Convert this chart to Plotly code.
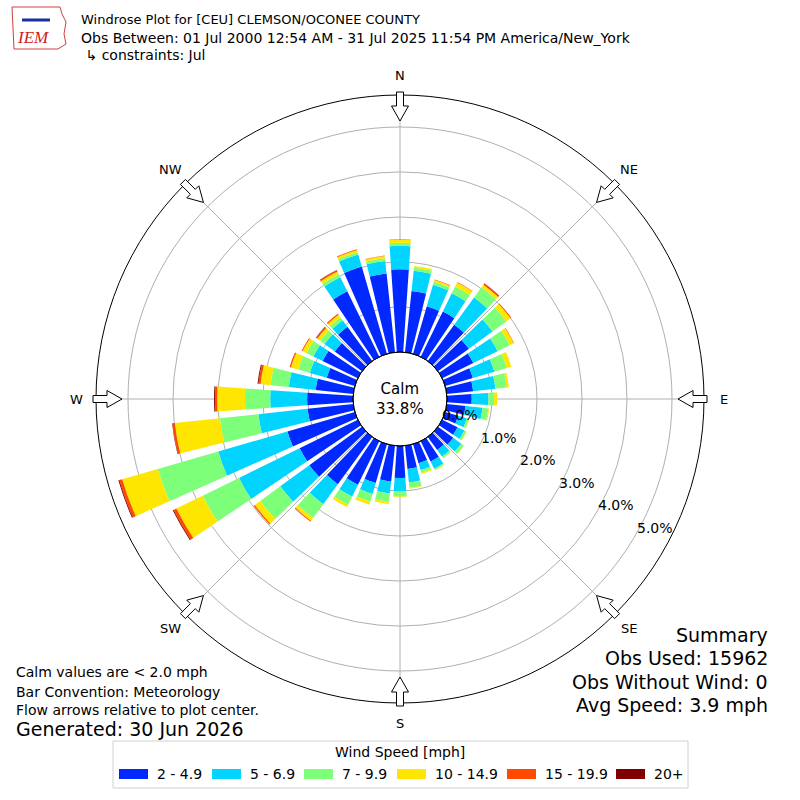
import math
import plotly.graph_objects as go

# wind direction bins (compass degrees, bar centres)
directions = [10, 20, 30, 40, 50, 60, 70, 80, 90, 100, 110, 120, 130, 140, 150, 160, 170, 180,
              190, 200, 210, 220, 230, 240, 250, 260, 270, 280, 290, 300, 310, 320, 330, 340, 350, 360]

# percent of obs per direction for each speed bin
spd_2_5 = [1.37, 1.10, 1.12, 1.00, 0.85, 0.77, 0.64, 0.59, 0.55, 0.42, 0.30, 0.38, 0.42, 0.36, 0.50, 0.44, 0.52, 0.71,
           0.80, 0.90, 1.08, 1.30, 1.45, 1.44, 1.56, 1.02, 1.02, 0.84, 0.65, 0.87, 0.75, 0.94, 1.62, 2.02, 1.76, 1.84]
spd_5_7 = [0.45, 0.50, 0.45, 0.75, 0.65, 0.60, 0.50, 0.50, 0.37, 0.38, 0.20, 0.17, 0.22, 0.18, 0.18, 0.16, 0.30, 0.30,
           0.27, 0.25, 0.29, 0.55, 0.80, 1.50, 1.60, 1.10, 0.82, 0.60, 0.39, 0.23, 0.28, 0.18, 0.35, 0.28, 0.28, 0.52]
spd_7_10 = [0.07, 0.07, 0.17, 0.28, 0.38, 0.30, 0.29, 0.25, 0.13, 0.13, 0.05, 0.05, 0.07, 0.04, 0.03, 0.06, 0.12, 0.11,
            0.18, 0.18, 0.20, 0.38, 0.55, 0.90, 1.40, 0.86, 0.56, 0.41, 0.27, 0.17, 0.12, 0.08, 0.07, 0.05, 0.06, 0.07]
spd_10_15 = [0.04, 0.04, 0.10, 0.07, 0.12, 0.10, 0.10, 0.05, 0.07, 0.02, 0.01, 0.01, 0.01, 0.01, 0.01, 0.03, 0.02, 0.02,
             0.05, 0.07, 0.06, 0.08, 0.15, 0.65, 0.82, 1.01, 0.62, 0.22, 0.17, 0.10, 0.08, 0.07, 0.07, 0.05, 0.05, 0.07]
spd_15_20 = [0.00, 0.01, 0.01, 0.03, 0.02, 0.01, 0.00, 0.00, 0.00, 0.00, 0.00, 0.00, 0.00, 0.00, 0.00, 0.00, 0.00, 0.00,
             0.00, 0.00, 0.00, 0.02, 0.03, 0.07, 0.07, 0.05, 0.05, 0.05, 0.03, 0.02, 0.03, 0.03, 0.03, 0.02, 0.01, 0.01]
spd_20p = [0.00, 0.00, 0.00, 0.01, 0.00, 0.00, 0.00, 0.00, 0.00, 0.00, 0.00, 0.00, 0.00, 0.00, 0.00, 0.00, 0.00, 0.00,
           0.00, 0.00, 0.00, 0.00, 0.00, 0.02, 0.02, 0.01, 0.02, 0.02, 0.00, 0.00, 0.01, 0.00, 0.01, 0.00, 0.00, 0.00]

bin_labels = ["2 - 4.9", "5 - 6.9", "7 - 9.9", "10 - 14.9", "15 - 19.9", "20+"]
bin_colors = ["#0028ff", "#00d4ff", "#7dff7a", "#ffe600", "#ff4a00", "#7f0000"]
speed_bins = [spd_2_5, spd_5_7, spd_7_10, spd_10_15, spd_15_20, spd_20p]

calm_pct = 33.8
r_ticks = [0, 1, 2, 3, 4, 5]
compass = ["N", "NE", "E", "SE", "S", "SW", "W", "NW"]

FONT = "DejaVu Sans"
W = H = 800
CX, CY, R_OUT, R_HOLE = 400, 399, 304, 47
PX_PER_PCT = 45.0


def px(x, y):
    return x / W, 1 - y / H


fig = go.Figure()
for vals, lab, col in zip(speed_bins, bin_labels, bin_colors):
    fig.add_trace(go.Barpolar(r=vals, theta=directions, width=7.8, name=lab,
                              marker=dict(color=col, line=dict(width=0)),
                              showlegend=False))

x0, y1 = px(CX - R_OUT, CY - R_OUT)
x1, y0 = px(CX + R_OUT, CY + R_OUT)

fig.update_layout(
    width=W, height=H,
    margin=dict(l=0, r=0, t=0, b=0),
    paper_bgcolor="white",
    font=dict(family=FONT, size=13, color="black"),
    polar=dict(
        domain=dict(x=[x0, x1], y=[y0, y1]),
        hole=R_HOLE / R_OUT,
        bgcolor="white",
        barmode="stack",
        radialaxis=dict(range=[0, (R_OUT - R_HOLE) / PX_PER_PCT], tickvals=r_ticks,
                        showticklabels=False, angle=-30, showline=False, ticks="",
                        gridcolor="#b0b0b0", gridwidth=1, layer="above traces"),
        angularaxis=dict(rotation=90, direction="clockwise",
                         tickvals=[0, 45, 90, 135, 180, 225, 270, 315],
                         showticklabels=False, ticks="", showline=True,
                         linecolor="black", linewidth=1,
                         gridcolor="#b0b0b0", gridwidth=1, layer="above traces"),
    ),
)

shapes = []
# calm circle edge
hx0, hy1 = px(CX - R_HOLE, CY - R_HOLE)
hx1, hy0 = px(CX + R_HOLE, CY + R_HOLE)
shapes.append(dict(type="circle", xref="paper", yref="paper", x0=hx0, x1=hx1, y0=hy0, y1=hy1,
                   line=dict(color="black", width=1)))

# hollow flow arrows pointing to plot center
arrow_pts = [(307, -3.5), (293, -3.5), (293, -8.5), (278, 0), (293, 8.5), (293, 3.5), (307, 3.5)]
for k in range(8):
    a = math.radians(k * 45)
    ux, uy = math.sin(a), -math.cos(a)
    qx, qy = math.cos(a), math.sin(a)
    path = ""
    for i, (rr, ww) in enumerate(arrow_pts):
        xx, yy = px(CX + rr * ux + ww * qx, CY + rr * uy + ww * qy)
        path += ("M" if i == 0 else "L") + "%.5f,%.5f " % (xx, yy)
    shapes.append(dict(type="path", xref="paper", yref="paper", path=path + "Z",
                       fillcolor="white", line=dict(color="black", width=1)))

annotations = []
for k, lab in enumerate(compass):
    a = math.radians(k * 45)
    xx, yy = px(CX + 324 * math.sin(a), CY - 324 * math.cos(a))
    annotations.append(dict(x=xx, y=yy, xref="paper", yref="paper", text=lab, showarrow=False,
                            font=dict(size=13), xanchor="center", yanchor="middle"))

# radial tick labels, laid along 30 deg below east
ang = math.radians(30)
for t in r_ticks:
    rr = R_HOLE + PX_PER_PCT * t
    xx, yy = px(CX + rr * math.cos(ang) + 19, CY + rr * math.sin(ang) - 7.5)
    annotations.append(dict(x=xx, y=yy, xref="paper", yref="paper", text="%.1f%%" % t,
                            showarrow=False, font=dict(size=14), xanchor="center", yanchor="middle"))

annotations.append(dict(x=CX / W, y=1 - CY / H, xref="paper", yref="paper",
                        text="Calm<br>%.1f%%" % calm_pct, showarrow=False,
                        font=dict(size=15), xanchor="center", yanchor="middle"))

# header
head = [("Windrose Plot for [CEU] CLEMSON/OCONEE COUNTY", 79, 19, 13),
        ("Obs Between: 01 Jul 2000 12:54 AM - 31 Jul 2025 11:54 PM America/New_York", 79, 38, 14),
        (" \u21b3 constraints: Jul", 79, 55, 14)]
for t, xx, yy, fs in head:
    annotations.append(dict(x=xx / W, y=1 - yy / H, xref="paper", yref="paper", text=t,
                            showarrow=False, xanchor="left", yanchor="middle", font=dict(size=fs)))

# IEM logo
shapes.append(dict(type="path", xref="paper", yref="paper",
                   path="M %f,%f L %f,%f L %f,%f L %f,%f L %f,%f L %f,%f L %f,%f L %f,%f Z" % (
                       *px(12, 7), *px(60, 7), *px(62, 14), *px(66, 22), *px(64, 34), *px(66, 44),
                       *px(58, 49), *px(14, 49)),
                   line=dict(color="#d04040", width=1)))
shapes.append(dict(type="line", xref="paper", yref="paper", x0=px(22, 20)[0], y0=px(22, 20)[1],
                   x1=px(50, 20)[0], y1=px(50, 20)[1], line=dict(color="#1a2ea0", width=3)))
annotations.append(dict(x=33 / W, y=1 - 37 / H, xref="paper", yref="paper", text="<i>IEM</i>",
                        showarrow=False, font=dict(size=17, family="Liberation Serif", color="#d02020"),
                        xanchor="center", yanchor="middle"))

# footnotes
foot = [("Calm values are < 2.0 mph", 672, 14), ("Bar Convention: Meteorology", 692, 14),
        ("Flow arrows relative to plot center.", 710, 14), ("Generated: 30 Jun 2026", 729, 19)]
for t, yy, fs in foot:
    annotations.append(dict(x=14 / W, y=1 - yy / H, xref="paper", yref="paper", text=t,
                            showarrow=False, xanchor="left", yanchor="middle", font=dict(size=fs)))

summ = [("Summary", 635), ("Obs Used: 15962", 658), ("Obs Without Wind: 0", 682),
        ("Avg Speed: 3.9 mph", 705)]
for t, yy in summ:
    annotations.append(dict(x=770 / W, y=1 - yy / H, xref="paper", yref="paper", text=t,
                            showarrow=False, xanchor="right", yanchor="middle", font=dict(size=19)))

# legend box
lx0, ly1 = px(113, 741)
lx1, ly0 = px(688, 788)
shapes.append(dict(type="rect", xref="paper", yref="paper", x0=lx0, x1=lx1, y0=ly0, y1=ly1,
                   line=dict(color="#d0d0d0", width=1), fillcolor="white"))
annotations.append(dict(x=400 / W, y=1 - 752 / H, xref="paper", yref="paper",
                        text="Wind Speed [mph]", showarrow=False, font=dict(size=14),
                        xanchor="center", yanchor="middle"))
sw_left = [119, 212, 304, 397, 507, 616]
for xl, lab, col in zip(sw_left, bin_labels, bin_colors):
    a0, b1 = px(xl, 769)
    a1, b0 = px(xl + 29, 779)
    shapes.append(dict(type="rect", xref="paper", yref="paper", x0=a0, x1=a1, y0=b0, y1=b1,
                       fillcolor=col, line=dict(width=0)))
    annotations.append(dict(x=(xl + 36) / W, y=1 - 774 / H, xref="paper", yref="paper", text=lab,
                            showarrow=False, font=dict(size=14), xanchor="left", yanchor="middle"))

fig.update_layout(shapes=shapes, annotations=annotations)
fig.write_html("out.html", config={"displayModeBar": False},
               post_script="document.body.style.margin='0';")
